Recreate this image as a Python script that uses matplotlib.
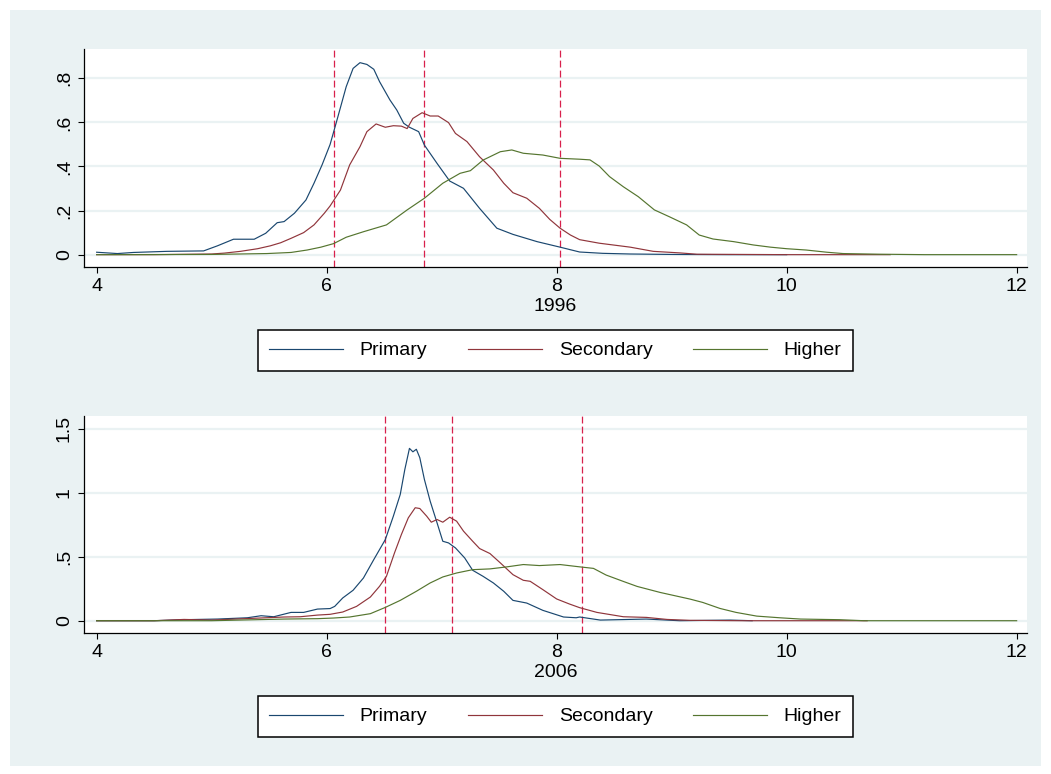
import matplotlib
matplotlib.use("Agg")
import matplotlib.pyplot as plt
from matplotlib.patches import Rectangle

plt.rcParams['font.family'] = ['Liberation Sans', 'DejaVu Sans']

series_names = ['Primary', 'Secondary', 'Higher']
colors = ['#1a476f', '#90353b', '#55752f']
years = ['1996', '2006']

# 1996 densities
x96_pri = [4.0, 4.18, 4.32, 4.61, 4.93, 5.05, 5.19, 5.37, 5.47, 5.57, 5.63, 5.72, 5.82, 5.89, 5.96,
           6.03, 6.09, 6.17, 6.23, 6.29, 6.35, 6.41, 6.46, 6.55, 6.61, 6.67, 6.72, 6.80, 6.85, 6.96,
           7.07, 7.19, 7.33, 7.48, 7.62, 7.83, 8.03, 8.20, 8.40, 8.64, 9.0, 9.5, 10.0]
y96_pri = [0.011, 0.005, 0.010, 0.015, 0.017, 0.040, 0.070, 0.070, 0.097, 0.145, 0.150, 0.188, 0.248, 0.324, 0.407,
           0.500, 0.611, 0.762, 0.845, 0.871, 0.863, 0.841, 0.785, 0.702, 0.656, 0.596, 0.578, 0.558, 0.497, 0.414,
           0.334, 0.301, 0.210, 0.120, 0.092, 0.059, 0.034, 0.012, 0.006, 0.003, 0.001, 0.0, 0.0]

x96_sec = [4.0, 4.5, 5.0, 5.11, 5.25, 5.40, 5.51, 5.60, 5.69, 5.80, 5.89, 5.98, 6.03, 6.12, 6.20,
           6.29, 6.35, 6.43, 6.51, 6.58, 6.65, 6.70, 6.75, 6.83, 6.90, 6.97, 7.06, 7.12, 7.22, 7.33,
           7.45, 7.54, 7.62, 7.74, 7.85, 7.94, 8.03, 8.12, 8.20, 8.37, 8.64, 8.84, 9.07, 9.22, 9.6,
           10.0, 10.9]
y96_sec = [0.0, 0.0, 0.003, 0.007, 0.015, 0.027, 0.040, 0.054, 0.074, 0.100, 0.135, 0.188, 0.221, 0.293, 0.407,
           0.490, 0.558, 0.593, 0.578, 0.585, 0.583, 0.572, 0.618, 0.644, 0.629, 0.629, 0.599, 0.550, 0.513, 0.444,
           0.384, 0.324, 0.281, 0.256, 0.210, 0.160, 0.120, 0.089, 0.068, 0.052, 0.034, 0.015, 0.008, 0.002, 0.001,
           0.0, 0.0]

x96_hig = [4.0, 5.0, 5.48, 5.69, 5.83, 5.95, 6.06, 6.17, 6.32, 6.52, 6.70, 6.85, 7.01, 7.16, 7.25,
           7.36, 7.51, 7.61, 7.71, 7.88, 8.03, 8.20, 8.29, 8.37, 8.46, 8.58, 8.71, 8.85, 8.98, 9.13,
           9.24, 9.36, 9.54, 9.71, 9.86, 10.0, 10.17, 10.35, 10.49, 10.81, 11.2, 12.0]
y96_hig = [0.0, 0.001, 0.005, 0.010, 0.021, 0.034, 0.050, 0.079, 0.104, 0.135, 0.203, 0.256, 0.324, 0.369, 0.381,
           0.429, 0.467, 0.475, 0.460, 0.452, 0.437, 0.433, 0.430, 0.402, 0.354, 0.308, 0.263, 0.203, 0.172, 0.135,
           0.089, 0.071, 0.059, 0.044, 0.034, 0.027, 0.021, 0.011, 0.005, 0.002, 0.0, 0.0]

# 2006 densities
x06_pri = [4.0, 4.5, 4.76, 5.05, 5.31, 5.43, 5.54, 5.69, 5.80, 5.92, 6.03, 6.07, 6.14, 6.23, 6.32,
           6.41, 6.51, 6.58, 6.64, 6.68, 6.72, 6.75, 6.78, 6.81, 6.85, 6.90, 6.96, 7.01, 7.06, 7.12,
           7.20, 7.27, 7.36, 7.45, 7.54, 7.62, 7.74, 7.88, 8.06, 8.17, 8.20, 8.38, 8.78, 9.07, 9.51,
           9.7]
y06_pri = [0.0, 0.0, 0.008, 0.013, 0.023, 0.039, 0.031, 0.065, 0.065, 0.091, 0.095, 0.112, 0.178, 0.238, 0.334,
           0.478, 0.634, 0.817, 0.987, 1.183, 1.347, 1.320, 1.340, 1.274, 1.104, 0.935, 0.765, 0.621, 0.608, 0.569,
           0.491, 0.394, 0.347, 0.295, 0.230, 0.159, 0.138, 0.081, 0.029, 0.023, 0.029, 0.005, 0.013, 0.0, 0.005,
           0.0]

x06_sec = [4.0, 4.5, 4.76, 5.0, 5.34, 5.63, 5.77, 5.92, 6.03, 6.14, 6.26, 6.38, 6.46, 6.52, 6.59,
           6.65, 6.71, 6.77, 6.81, 6.87, 6.91, 6.96, 7.01, 7.07, 7.13, 7.19, 7.27, 7.33, 7.42, 7.51,
           7.62, 7.71, 7.77, 7.88, 8.00, 8.11, 8.20, 8.35, 8.58, 8.78, 8.96, 9.16, 9.6, 10.7]
y06_sec = [0.0, 0.0, 0.010, 0.005, 0.018, 0.029, 0.031, 0.044, 0.050, 0.068, 0.112, 0.185, 0.269, 0.347, 0.530,
           0.674, 0.804, 0.883, 0.877, 0.817, 0.770, 0.791, 0.770, 0.809, 0.778, 0.700, 0.621, 0.564, 0.525, 0.452,
           0.360, 0.316, 0.308, 0.243, 0.170, 0.131, 0.102, 0.065, 0.031, 0.026, 0.010, 0.003, 0.0, 0.0]

x06_hig = [4.0, 5.0, 5.63, 5.92, 6.06, 6.20, 6.38, 6.51, 6.64, 6.78, 6.90, 7.01, 7.13, 7.27, 7.42,
           7.56, 7.71, 7.85, 8.03, 8.20, 8.32, 8.43, 8.58, 8.70, 8.90, 9.16, 9.27, 9.42, 9.56, 9.74,
           9.94, 10.12, 10.46, 10.67, 12.0]
y06_hig = [0.0, 0.0, 0.013, 0.016, 0.021, 0.029, 0.055, 0.104, 0.159, 0.230, 0.295, 0.342, 0.373, 0.399, 0.405,
           0.420, 0.439, 0.431, 0.439, 0.421, 0.409, 0.357, 0.307, 0.268, 0.221, 0.169, 0.143, 0.096, 0.065, 0.036,
           0.023, 0.013, 0.008, 0.0, 0.0]

# medians (dashed lines)
vlines96 = [6.06, 6.85, 8.03]
vlines06 = [6.51, 7.09, 8.22]

xticks = [4, 6, 8, 10, 12]
yticks96 = [0, 0.2, 0.4, 0.6, 0.8]
ylabels96 = ['0', '.2', '.4', '.6', '.8']
yticks06 = [0, 0.5, 1, 1.5]
ylabels06 = ['0', '.5', '1', '1.5']

bg = '#eaf2f3'
W, H = 1051, 774
fig = plt.figure(figsize=(W / 100, H / 100), dpi=100)
fig.patch.set_facecolor('white')
fig.add_artist(Rectangle((10 / W, 1 - 766 / H), 1031 / W, 756 / H, transform=fig.transFigure,
                         facecolor=bg, edgecolor='none', zorder=0))


def panel(top, bottom, curves, vlines, yticks, ylabels, ylim, year, leg_y):
    ax = fig.add_axes([84 / W, 1 - bottom / H, 943 / W, (bottom - top) / H])
    ax.set_facecolor('white')
    for t in yticks:
        ax.axhline(t, color=bg, lw=1.6, zorder=1)
    for v in vlines:
        ax.axvline(v, color='#d8204c', lw=0.9, dashes=(5.5, 2.5), zorder=2)
    for (xs, ys), name, c in zip(curves, series_names, colors):
        ax.plot(xs, ys, color=c, lw=0.85, label=name, zorder=3)
    ax.set_xlim(3.89, 12.09)
    ax.set_ylim(*ylim)
    ax.set_xticks(xticks)
    ax.set_xticklabels([str(t) for t in xticks])
    ax.set_yticks(yticks)
    ax.set_yticklabels(ylabels, rotation=90, va='center')
    for s in ['top', 'right']:
        ax.spines[s].set_visible(False)
    for s in ['left', 'bottom']:
        ax.spines[s].set_linewidth(0.9)
        ax.spines[s].set_color('black')
    ax.tick_params(direction='out', length=4, width=0.8, labelsize=14, pad=4)
    ax.tick_params(axis='y', pad=4)
    ax.set_xlabel(year, fontsize=14, labelpad=2)
    leg = ax.legend(loc='center', bbox_to_anchor=(555.5 / W, 1 - leg_y / H), bbox_transform=fig.transFigure,
                    ncol=3, fontsize=14, handlelength=3.8, handletextpad=0.85, columnspacing=2.1,
                    borderpad=0.6, fancybox=False, framealpha=1, edgecolor='black')
    leg.get_frame().set_linewidth(1.1)
    return ax


panel(49, 267, [(x96_pri, y96_pri), (x96_sec, y96_sec), (x96_hig, y96_hig)], vlines96,
      yticks96, ylabels96, (-0.056, 0.933), years[0], 350.5)
panel(416, 633, [(x06_pri, y06_pri), (x06_sec, y06_sec), (x06_hig, y06_hig)], vlines06,
      yticks06, ylabels06, (-0.096, 1.60), years[1], 716.5)

fig.savefig('out.png', dpi=100, facecolor=fig.get_facecolor())
